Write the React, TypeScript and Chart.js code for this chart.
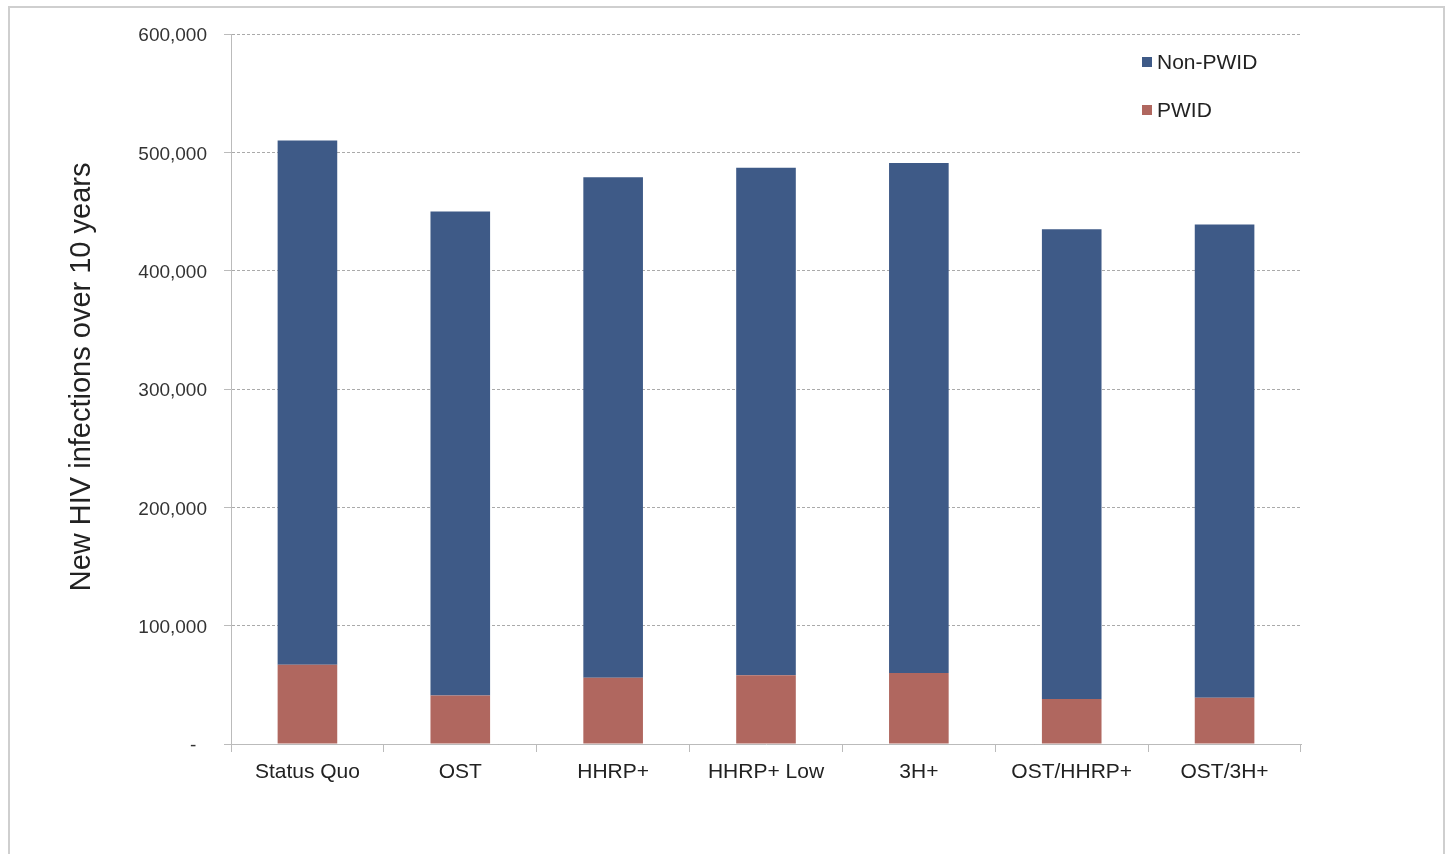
import React, { useEffect, useRef } from "react";
import { Chart, registerables } from "chart.js";

Chart.register(...registerables);

const categories = ["Status Quo", "OST", "HHRP+", "HHRP+ Low", "3H+", "OST/HHRP+", "OST/3H+"];
const totals = [510000, 450000, 479000, 487000, 491000, 435000, 439000];
const pwid = [67000, 41000, 56000, 58000, 60000, 38000, 39000];
const nonPwid = totals.map((t, i) => t - pwid[i]);
const yTicks = [0, 100000, 200000, 300000, 400000, 500000, 600000];

const BLUE = "#3e5a87";
const RED = "#b0675f";
const FONT = "'Liberation Sans', Arial, Helvetica, sans-serif";

const framePlugin = {
  id: "frame",
  beforeDraw(chart: any) {
    const ctx = chart.ctx;
    ctx.save();
    ctx.strokeStyle = "#cfcfcf";
    ctx.lineWidth = 2;
    ctx.strokeRect(9, 7, 1435, 900);
    ctx.restore();
  },
};

const legendPlugin = {
  id: "customLegend",
  afterDraw(chart: any) {
    const ctx = chart.ctx;
    const items = [
      { label: chart.data.datasets[1].label, color: chart.data.datasets[1].backgroundColor, y: 62 },
      { label: chart.data.datasets[0].label, color: chart.data.datasets[0].backgroundColor, y: 110 },
    ];
    ctx.save();
    ctx.font = `21px ${FONT}`;
    ctx.textBaseline = "middle";
    ctx.textAlign = "left";
    items.forEach((it) => {
      ctx.fillStyle = it.color;
      ctx.fillRect(1142, it.y - 5, 10, 10);
      ctx.fillStyle = "#222";
      ctx.fillText(it.label, 1157, it.y + 1);
    });
    ctx.restore();
  },
};

export default function App() {
  const ref = useRef<HTMLCanvasElement | null>(null);
  useEffect(() => {
    if (!ref.current) return;
    const chart = new Chart(ref.current, {
      type: "bar",
      data: {
        labels: categories,
        datasets: [
          { label: "PWID", data: pwid, backgroundColor: RED, barPercentage: 0.39, categoryPercentage: 1 },
          { label: "Non-PWID", data: nonPwid, backgroundColor: BLUE, barPercentage: 0.39, categoryPercentage: 1 },
        ],
      },
      options: {
        animation: false,
        responsive: true,
        maintainAspectRatio: false,
        layout: { padding: { left: 0, right: 147, top: 34, bottom: 0 } },
        plugins: { legend: { display: false }, tooltip: { enabled: false } },
        scales: {
          x: {
            stacked: true,
            grid: { offset: true, drawOnChartArea: false, drawTicks: true, tickLength: 8, color: "#bbbbbb" },
            border: { color: "#bbbbbb", width: 1 },
            ticks: { color: "#222", font: { family: FONT, size: 21 }, padding: 8 },
            afterFit(scale: any) {
              scale.height = 110;
            },
          },
          y: {
            stacked: true,
            min: 0,
            max: 600000,
            afterBuildTicks(scale: any) {
              scale.ticks = yTicks.map((v) => ({ value: v }));
            },
            grid: { color: "#aaaaaa", tickLength: 7, tickColor: "#bbbbbb", tickBorderDash: [] },
            border: { color: "#bbbbbb", width: 1, dash: [3, 2] },
            ticks: {
              color: "#333",
              font: { family: FONT, size: 19 },
              padding: 17,
              labelOffset: 2,
              callback: (v: any) => (Number(v) === 0 ? "-  " : Number(v).toLocaleString("en-US")),
            },
            title: {
              display: true,
              text: "   New HIV infections over 10 years",
              color: "#222",
              font: { family: FONT, size: 29 },
              padding: { top: 65, bottom: 0 },
            },
            afterFit(scale: any) {
              scale.width = 231;
            },
          },
        },
      },
      plugins: [framePlugin, legendPlugin],
    });
    return () => chart.destroy();
  }, []);
  return (
    <div style={{ position: "fixed", left: 0, top: 0, width: 1448, height: 854, background: "#fff" }}>
      <canvas ref={ref} />
    </div>
  );
}
